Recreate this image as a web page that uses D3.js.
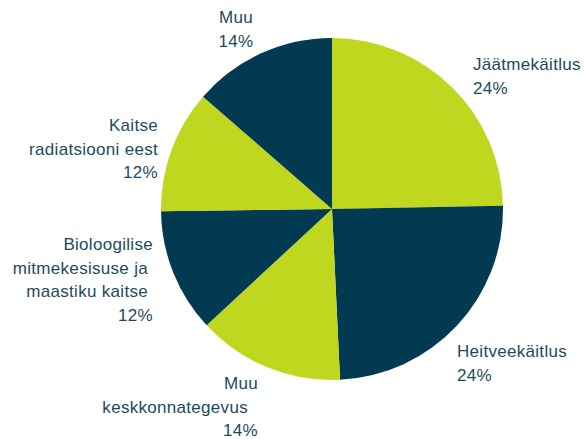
<!DOCTYPE html>
<html>
<head>
<meta charset="utf-8">
<script src="https://cdn.jsdelivr.net/npm/d3@7"></script>
<style>
  html, body { margin: 0; padding: 0; background: #fff; }
  text { font-family: "Liberation Sans", Arial, sans-serif; font-size: 17px; fill: #1e4a5e; letter-spacing: 0.3px; }
</style>
</head>
<body>
<div id="chart"></div>
<script>
// slice data, clockwise from 12 o'clock
var categories = ["Jäätmekäitlus", "Heitveekäitlus", "Muu keskkonnategevus",
                  "Bioloogilise mitmekesisuse ja maastiku kaitse", "Kaitse radiatsiooni eest", "Muu"];
var values = [24.7, 24.55, 13.85, 11.7, 11.6, 13.6];
var pctLabels = ["24%", "24%", "14%", "12%", "12%", "14%"];
// how each category label wraps on the chart
var labelLines = [
  ["Jäätmekäitlus"],
  ["Heitveekäitlus"],
  ["Muu", "keskkonnategevus\u00a0\u00a0"],
  ["Bioloogilise", "mitmekesisuse ja\u00a0", "maastiku kaitse\u00a0"],
  ["Kaitse", "radiatsiooni eest"],
  ["Muu"]
];

var width = 585, height = 439;
var cx = 332, cy = 209, radius = 171;
var green = "#bfd71e", navy = "#023a51";

// label placement (x, first baseline, anchor)
var labelPos = [
  {x: 473, y: 70, anchor: "start"},
  {x: 457, y: 357, anchor: "start"},
  {x: 258, y: 389, anchor: "end"},
  {x: 153, y: 250, anchor: "end"},
  {x: 158, y: 131, anchor: "end"},
  {x: 236, y: 23, anchor: "middle"}
];
var lineH = 23.7;

var svg = d3.select("#chart")
  .append("svg")
  .attr("width", width)
  .attr("height", height);

var pie = d3.pie().sort(null).value(function(d) { return d; });
var arc = d3.arc().innerRadius(0).outerRadius(radius);

var g = svg.append("g").attr("transform", "translate(" + cx + "," + cy + ")");

g.selectAll("path")
  .data(pie(values))
  .enter()
  .append("path")
  .attr("d", arc)
  .style("fill", function(d, i) { return i % 2 == 0 ? green : navy; });

var labels = svg.selectAll("text.lbl")
  .data(categories)
  .enter()
  .append("text")
  .attr("class", "lbl")
  .attr("text-anchor", function(d, i) { return labelPos[i].anchor; })
  .attr("xml:space", "preserve");

labels.each(function(d, i) {
  var lines = labelLines[i].concat([pctLabels[i]]);
  var t = d3.select(this);
  lines.forEach(function(line, k) {
    t.append("tspan")
      .attr("x", labelPos[i].x)
      .attr("y", labelPos[i].y + k * lineH)
      .text(line);
  });
});
</script>
</body>
</html>
